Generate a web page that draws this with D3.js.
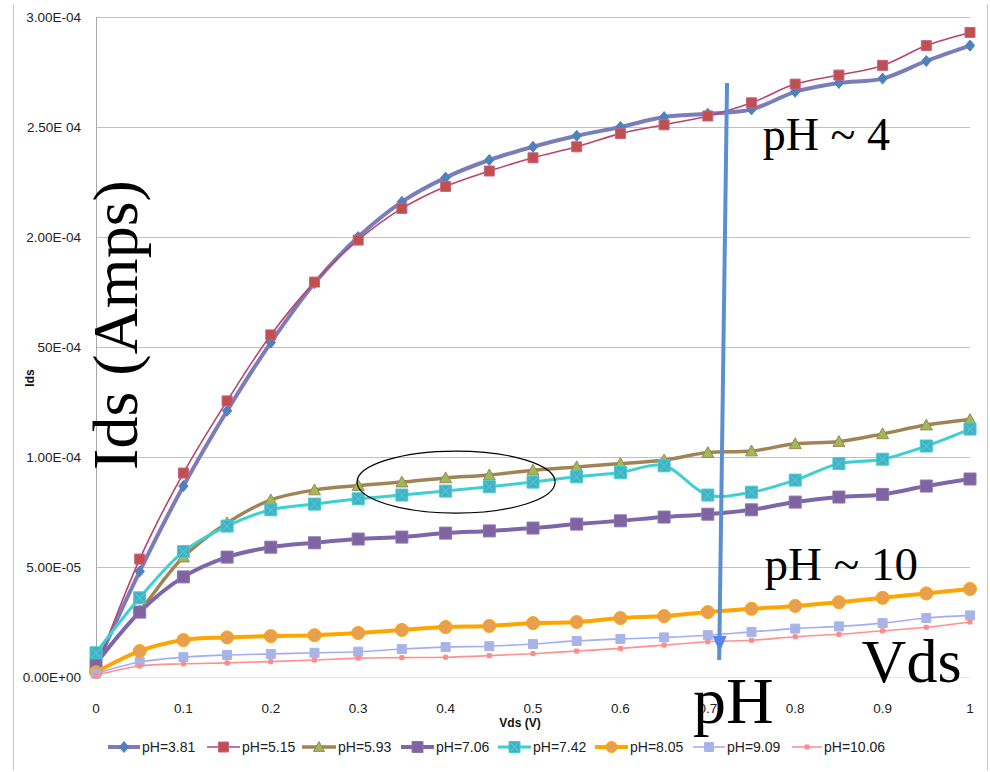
<!DOCTYPE html>
<html>
<head>
<meta charset="utf-8">
<script src="https://cdn.jsdelivr.net/npm/d3@7"></script>
<style>
  html, body { margin: 0; padding: 0; background: #fff; }
  svg { display: block; }
  .tick-label { font-family: "Liberation Sans", Arial, sans-serif; font-size: 13.5px; fill: #222; }
  .axis-title { font-family: "Liberation Sans", Arial, sans-serif; font-size: 12px; font-weight: bold; fill: #111; }
  .legend-text { font-family: "Liberation Sans", Arial, sans-serif; font-size: 14px; fill: #222; }
  .big { font-family: "Liberation Serif", "Times New Roman", serif; fill: #000; }
</style>
</head>
<body>
<svg id="chart" width="990" height="772"></svg>
<script>
// Drain current vs drain voltage for several pH values
const vds = [0, 0.05, 0.1, 0.15, 0.2, 0.25, 0.3, 0.35, 0.4, 0.45, 0.5,
             0.55, 0.6, 0.65, 0.7, 0.75, 0.8, 0.85, 0.9, 0.95, 1];

// Ids values in units of 1e-6 A
const ids_ph381  = [5, 48, 86.8, 121, 152, 179, 200, 216, 227, 235, 241, 246, 250, 254.5, 256, 258, 266, 270, 272, 280, 287];
const ids_ph515  = [3.5, 53.6, 92.7, 125.5, 155.5, 179.5, 198.6, 213, 223, 230, 236, 241, 247, 251, 255, 261, 269.5, 273.6, 278, 287, 293];
const ids_ph593  = [7, 30, 54.5, 70, 80.5, 85, 87, 88.6, 90.5, 91.8, 94, 95.5, 97, 98.6, 102, 102.7, 106, 107, 110.5, 114.5, 117];
const ids_ph706  = [6, 29.5, 45.5, 54.5, 59, 61, 62.7, 63.6, 65.4, 66.4, 67.7, 69.5, 71, 72.7, 74, 76, 79.5, 81.8, 83, 86.8, 90];
const ids_ph742  = [11, 36, 57, 68.6, 76, 78.6, 81, 82.7, 84.5, 86.5, 88.6, 91, 93, 96, 82.7, 84, 89.5, 97, 99, 105, 112.7];
const ids_ph805  = [2.2, 11.8, 16.8, 18, 18.6, 19, 20, 21.4, 22.7, 23.2, 24.5, 25, 26.8, 27.7, 29.5, 31, 32.3, 34, 36, 38, 40];
const ids_ph909  = [1.5, 6.8, 9, 10, 10.5, 11, 11.5, 12.7, 13.6, 14, 15, 16.4, 17.3, 18, 19, 20.5, 22, 23, 24.5, 26.8, 28];
const ids_ph1006 = [0.8, 5, 6, 6.4, 7, 7.7, 8.6, 8.8, 9, 9.7, 10.6, 11.8, 13, 14.5, 16, 16.7, 18.3, 19.4, 21, 22.6, 25];

const seriesNames = ["pH=3.81", "pH=5.15", "pH=5.93", "pH=7.06", "pH=7.42", "pH=8.05", "pH=9.09", "pH=10.06"];
const seriesValues = [ids_ph381, ids_ph515, ids_ph593, ids_ph706, ids_ph742, ids_ph805, ids_ph909, ids_ph1006];

const xTicks = [0, 0.1, 0.2, 0.3, 0.4, 0.5, 0.6, 0.7, 0.8, 0.9, 1];
const xTickLabels = ["0", "0.1", "0.2", "0.3", "0.4", "0.5", "0.6", "0.7", "0.8", "0.9", "1"];
const yTicks = [0, 50, 100, 150, 200, 250, 300];
const yTickLabels = ["0.00E+00", "5.00E-05", "1.00E-04", "50E-04", "2.00E-04", "2.50E 04", "3.00E-04"];

// Per-series styling
const styles = [
  { line: "#7b7cba", width: 4,   marker: "diamond",  fill: "#4f81bd", stroke: "#4f81bd", size: 11 },
  { line: "#b8436f", width: 1.6, marker: "square",   fill: "#c0504d", stroke: "#c86088", size: 10 },
  { line: "#a08454", width: 3.5, marker: "triangle", fill: "#9bbb59", stroke: "#a08454", size: 12 },
  { line: "#7d67a8", width: 4,   marker: "square",   fill: "#8064a2", stroke: "#8a75b0", size: 12 },
  { line: "#3dd0d0", width: 3,   marker: "xsquare",  fill: "#4bacc6", stroke: "#3dd0d0", size: 12 },
  { line: "#ffa500", width: 4,   marker: "circle",   fill: "#e8a050", stroke: "#ffa500", size: 13 },
  { line: "#a3adf5", width: 1.6, marker: "square",   fill: "#a9b4e6", stroke: "#a9b4e6", size: 9 },
  { line: "#ff9090", width: 1.6, marker: "square",   fill: "#ff8a8a", stroke: "#ff8a8a", size: 4 }
];

const svg = d3.select("#chart");
const plot = { left: 96, right: 970, top: 17, bottom: 677 };

const x = d3.scaleLinear().domain([0, 1]).range([plot.left, plot.right]);
const y = d3.scaleLinear().domain([0, 300]).range([plot.bottom, plot.top]);

// outer frame edges
svg.append("line").attr("x1", 13.5).attr("x2", 13.5).attr("y1", 4).attr("y2", 770)
  .attr("stroke", "#c8c8c8").attr("stroke-width", 1);
svg.append("line").attr("x1", 987.5).attr("x2", 987.5).attr("y1", 4).attr("y2", 770)
  .attr("stroke", "#c8c8c8").attr("stroke-width", 1);

// horizontal gridlines
svg.append("g").selectAll("line").data(yTicks).join("line")
  .attr("x1", plot.left).attr("x2", plot.right)
  .attr("y1", d => Math.round(y(d)) + 0.5).attr("y2", d => Math.round(y(d)) + 0.5)
  .attr("stroke", d => d === 0 ? "#e8e8e8" : "#c0c0c0").attr("stroke-width", 1);

// vertical axis line
svg.append("line").attr("x1", plot.left + 0.5).attr("x2", plot.left + 0.5)
  .attr("y1", plot.top).attr("y2", plot.bottom)
  .attr("stroke", "#a8a8a8").attr("stroke-width", 1);

// y tick labels
svg.append("g").selectAll("text").data(yTicks).join("text")
  .attr("class", "tick-label")
  .attr("x", 81).attr("y", d => y(d)).attr("dy", "0.35em")
  .attr("text-anchor", "end")
  .text((d, i) => yTickLabels[i]);

// x tick labels
svg.append("g").selectAll("text").data(xTicks).join("text")
  .attr("class", "tick-label")
  .attr("x", d => x(d)).attr("y", 708).attr("dy", "0.35em")
  .attr("text-anchor", "middle")
  .text((d, i) => xTickLabels[i]);

// axis titles
svg.append("text").attr("class", "axis-title")
  .attr("transform", "translate(34,378) rotate(-90)")
  .attr("text-anchor", "middle").text("Ids");
svg.append("text").attr("class", "axis-title")
  .attr("x", 520).attr("y", 727).attr("text-anchor", "middle").text("Vds (V)");

function markerPath(type, s) {
  const h = s / 2;
  switch (type) {
    case "diamond": return `M0,${-h}L${h * 0.85},0L0,${h}L${-h * 0.85},0Z`;
    case "triangle": return `M0,${-h}L${h},${h * 0.8}L${-h},${h * 0.8}Z`;
    case "circle": return d3.symbol(d3.symbolCircle, Math.PI * h * h)();
    default: return `M${-h},${-h}H${h}V${h}H${-h}Z`;
  }
}

function drawMarker(g, st, s) {
  g.append("path").attr("d", markerPath(st.marker, s))
    .attr("fill", st.fill).attr("stroke", st.stroke).attr("stroke-width", 1);
  if (st.marker === "xsquare") {
    const k = s / 2 - 1.5;
    g.append("path").attr("d", `M${-k},${-k}L${k},${k}M${k},${-k}L${-k},${k}`)
      .attr("stroke", "#3dd0d0").attr("stroke-width", 1.2).attr("fill", "none");
  }
}

const lineGen = d3.line()
  .x(d => x(d[0])).y(d => y(d[1]))
  .curve(d3.curveCatmullRom.alpha(0.5));

const seriesG = svg.append("g");
seriesValues.forEach((vals, si) => {
  const st = styles[si];
  const pts = vds.map((v, i) => [v, vals[i]]);
  const g = seriesG.append("g");
  g.append("path").attr("d", lineGen(pts))
    .attr("fill", "none").attr("stroke", st.line)
    .attr("stroke-width", st.width).attr("stroke-linejoin", "round");
  pts.forEach(p => {
    const mg = g.append("g").attr("transform", `translate(${x(p[0])},${y(p[1])})`);
    drawMarker(mg, st, st.size);
  });
});

// legend
const legendItems = [
  { x0: 108, x1: 140 }, { x0: 207, x1: 240 }, { x0: 302, x1: 336 }, { x0: 401, x1: 434 },
  { x0: 498, x1: 531 }, { x0: 595, x1: 628 }, { x0: 693, x1: 725 }, { x0: 792, x1: 822 }
];
const legend = svg.append("g");
seriesNames.forEach((name, i) => {
  const st = styles[i];
  const li = legendItems[i];
  const ly = 747;
  legend.append("line").attr("x1", li.x0).attr("x2", li.x1).attr("y1", ly).attr("y2", ly)
    .attr("stroke", st.line).attr("stroke-width", st.width);
  const mg = legend.append("g").attr("transform", `translate(${(li.x0 + li.x1) / 2},${ly})`);
  drawMarker(mg, st, Math.min(st.size, 11));
  legend.append("text").attr("class", "legend-text")
    .attr("x", li.x1 + 2).attr("y", ly).attr("dy", "0.36em").text(name);
});

// annotations
const notes = svg.append("g");

// ellipse around the 5.93 / 7.42 curves
notes.append("ellipse")
  .attr("cx", x(0.412)).attr("cy", y(88.6))
  .attr("rx", x(0.1133) - x(0)).attr("ry", y(0) - y(14.1))
  .attr("fill", "none").attr("stroke", "#000").attr("stroke-width", 1.2);

// pH direction arrow
notes.append("line")
  .attr("x1", x(0.722)).attr("y1", y(270))
  .attr("x2", x(0.713)).attr("y2", y(7.7))
  .attr("stroke", "#5b8fd0").attr("stroke-width", 4);
const tipX = x(0.7135), tipY = y(11.4), baseY = y(18.6);
notes.append("path")
  .attr("d", `M${tipX},${tipY}L${tipX - 7},${baseY}L${tipX + 7},${baseY}Z`)
  .attr("fill", "#5a86ea");

notes.append("text").attr("class", "big").attr("font-size", 46)
  .attr("x", x(0.763)).attr("y", y(239.5)).text("pH ~ 4");
notes.append("text").attr("class", "big").attr("font-size", 47)
  .attr("x", x(0.765)).attr("y", y(44)).text("pH ~ 10");
notes.append("text").attr("class", "big").attr("font-size", 62)
  .attr("x", x(0.876)).attr("y", y(-2.3)).text("Vds");
notes.append("text").attr("class", "big").attr("font-size", 66)
  .attr("x", x(0.683)).attr("y", y(-20.9)).text("pH");
notes.append("text").attr("class", "big").attr("font-size", 64)
  .attr("text-anchor", "middle")
  .attr("transform", `translate(${x(0.047)},${y(160)}) rotate(-90)`)
  .text("Ids (Amps)");
</script>
</body>
</html>
